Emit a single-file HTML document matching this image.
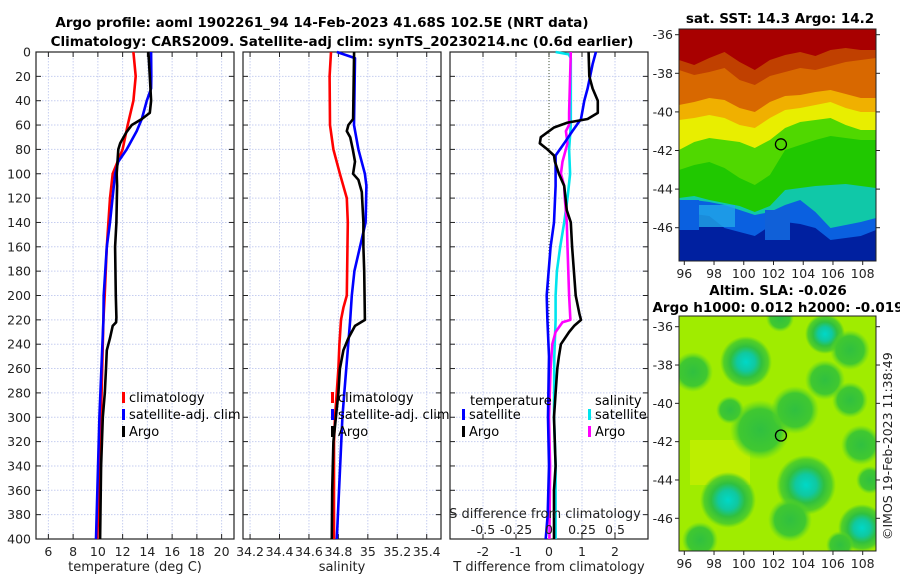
<!DOCTYPE html>
<html><head><meta charset="utf-8"><style>
html,body{margin:0;padding:0;background:#fff}
svg{display:block;font-family:"DejaVu Sans","Liberation Sans",sans-serif}
.tk{font-size:12.5px;fill:#222}
.tt{font-size:13.5px;font-weight:bold;fill:#000}
.lg{font-size:13px;fill:#000}
</style></head><body>
<svg id="fig" width="900" height="580" viewBox="0 0 900 580" xmlns="http://www.w3.org/2000/svg">
<text class="tt" x="322" y="27" text-anchor="middle">Argo profile: aoml 1902261_94 14-Feb-2023 41.68S 102.5E (NRT data)</text>
<text class="tt" x="342" y="46" text-anchor="middle">Climatology: CARS2009. Satellite-adj clim: synTS_20230214.nc (0.6d earlier)</text>
<g id="panels"></g>
<g id="maps"></g>
<text class="tt" x="780" y="23" text-anchor="middle">sat. SST: 14.3 Argo: 14.2</text>
<text class="tt" x="778" y="295" text-anchor="middle">Altim. SLA: -0.026</text>
<text class="tt" x="778" y="312" text-anchor="middle">Argo h1000: 0.012 h2000: -0.019</text>
<text class="tk" x="0" y="0" transform="translate(892,540) rotate(-90)">©IMOS 19-Feb-2023 11:38:49</text>
</svg>
<script>
const NS='http://www.w3.org/2000/svg';
// ---- data ----
const tClimDepth=[0,20,40,60,80,100,120,140,160,200,220,300,400];
const tClim=[12.87,13.06,12.87,12.41,12.0,11.2,10.98,10.85,10.72,10.55,10.45,10.25,9.95];
const tSatDepth=[0,20,30,40,55,65,80,90,100,140,160,200,220,300,400];
const tSat=[14.3,14.32,14.3,13.95,13.55,13.14,12.33,11.65,11.39,10.98,10.72,10.47,10.45,10.12,9.85];
const tArgoDepth=[0,20,40,50,55,60,66,75,80,100,110,140,160,200,218,222,225,235,245,260,280,300,340,400];
const tArgo=[14.08,14.2,14.3,14.2,13.55,12.74,12.3,11.8,11.65,11.52,11.55,11.5,11.39,11.45,11.5,11.47,11.2,10.98,10.72,10.66,10.56,10.4,10.26,10.18];
const sClimDepth=[0,20,60,80,100,120,140,200,210,220,240,260,300,320,400];
const sClim=[34.75,34.74,34.743,34.766,34.81,34.857,34.864,34.857,34.834,34.818,34.807,34.8,34.777,34.77,34.77];
const sSatDepth=[0,5,60,80,100,110,140,160,180,200,220,280,300,400];
const sSat=[34.79,34.913,34.906,34.936,34.98,34.99,34.985,34.947,34.909,34.891,34.88,34.84,34.827,34.789];
const sArgoDepth=[0,55,60,65,70,80,90,100,105,115,140,160,180,220,225,235,245,260,280,320,360,400];
const sArgo=[34.907,34.9,34.868,34.857,34.88,34.898,34.913,34.9,34.936,34.959,34.97,34.97,34.975,34.98,34.913,34.868,34.834,34.81,34.8,34.766,34.758,34.755];
const dTSatDepth=[0,10,30,40,55,65,75,85,100,110,140,160,200,220,250,300,340,380,400];
const dTSat=[1.42,1.32,1.17,1.07,0.97,0.71,0.46,0.2,0.2,0.2,0.15,0.05,-0.07,-0.05,0,-0.03,0,-0.04,-0.1];
const dTArgoDepth=[0,20,30,40,50,55,58,62,70,75,80,85,90,100,110,130,140,160,200,215,220,225,230,240,250,260,280,300,340,360,400];
const dTArgo=[1.2,1.22,1.32,1.48,1.48,1.17,0.56,0.15,-0.25,-0.28,-0.05,0.15,0.18,0.3,0.46,0.54,0.66,0.7,0.81,0.92,0.97,0.76,0.61,0.36,0.3,0.25,0.2,0.15,0.2,0.15,0.15];
const dSSatDepth=[0,2,5,60,80,100,120,140,160,180,200,220,250,300,340,400];
const dSSat=[0.05,0.15,0.165,0.165,0.152,0.16,0.14,0.115,0.085,0.06,0.05,0.05,0.04,0.038,0.05,0.05];
const dSArgoDepth=[0,50,60,65,75,90,100,110,120,140,160,200,220,222,230,240,260,300,340,400];
const dSArgo=[0.165,0.152,0.152,0.128,0.14,0.102,0.09,0.115,0.12,0.135,0.14,0.152,0.162,0.102,0.05,0.025,0.012,0,0.008,0.003];
const depthTicks=[0,20,40,60,80,100,120,140,160,180,200,220,240,260,280,300,320,340,360,380,400];
const tTicks=[6,8,10,12,14,16,18,20];
const sTicks=[34.2,34.4,34.6,34.8,35,35.2,35.4];
const sTickLabels=['34.2','34.4','34.6','34.8','35','35.2','35.4'];
const dTTicks=[-2,-1,0,1,2];
const dSTicks=[-0.5,-0.25,0,0.25,0.5];
const dSTickLabels=['-0.5','-0.25','0','0.25','0.5'];

const Y0=52,Y1=539;
const yS=d=>Y0+(d/400)*(Y1-Y0);
function lin(d0,d1,r0,r1){return v=>r0+(v-d0)/(d1-d0)*(r1-r0);}
const panels=[
 {x0:36,x1:234,sc:lin(5,21,36,234),ticks:tTicks,labels:tTicks.map(String),title:'temperature (deg C)',name:'temperature'},
 {x0:243,x1:441,sc:lin(34.152,35.497,243,441),ticks:sTicks,labels:sTickLabels,title:'salinity',name:'salinity'},
 {x0:450,x1:648,sc:lin(-3,3,450,648),ticks:dTTicks,labels:dTTicks.map(String),title:'T difference from climatology',name:'difference'}
];
const g=document.getElementById('panels');
function mk(tag,attrs,parent){const e=document.createElementNS(NS,tag);for(const k in attrs)e.setAttribute(k,attrs[k]);(parent||g).appendChild(e);return e;}
panels.forEach((p,pi)=>{
  const pg=mk('g',{});
  
  
  depthTicks.forEach(d=>{
    const l=mk('line',{x1:p.x0,x2:p.x1,y1:yS(d),y2:yS(d),stroke:'#c6cef0','stroke-dasharray':'1.5,1.5','stroke-width':1},pg);
    
    
    mk('line',{x1:p.x0,x2:p.x0+5,y1:yS(d),y2:yS(d),stroke:'#222'},pg);
    mk('line',{x1:p.x1,x2:p.x1-5,y1:yS(d),y2:yS(d),stroke:'#222'},pg);
  });
  p.ticks.forEach((t,i)=>{
    const x=p.sc(t);
    const l=mk('line',{x1:x,x2:x,y1:Y0,y2:Y1,stroke:'#c6cef0','stroke-dasharray':'1.5,1.5','stroke-width':1},pg);
    
    
    mk('line',{x1:x,x2:x,y1:Y0,y2:Y0+5,stroke:'#222'},pg);
    mk('line',{x1:x,x2:x,y1:Y1,y2:Y1-5,stroke:'#222'},pg);
    const tx=mk('text',{x:x,y:556,'text-anchor':'middle',class:'tk'},pg);
    tx.textContent=p.labels[i];
    
    
  });
  const at=mk('text',{x:(p.x0+p.x1)/2,y:571,'text-anchor':'middle',class:'tk',style:'font-size:13px'},pg);
  at.textContent=p.title;
  
  
  const fr=mk('rect',{x:p.x0,y:Y0,width:p.x1-p.x0,height:Y1-Y0,fill:'none',stroke:'#222','stroke-width':1.2},pg);
  
  
});
depthTicks.forEach(d=>{
  const t=mk('text',{x:31,y:yS(d)+4.5,'text-anchor':'end',class:'tk'});
  t.textContent=d;
  
  
});
const zx=panels[2].sc(0);
const zl=mk('line',{x1:zx,x2:zx,y1:Y0,y2:Y1,stroke:'#445533','stroke-dasharray':'1,2','stroke-width':1});


function series(depths,vals,sc,color,name){
  const pts=depths.map((d,i)=>sc(vals[i]).toFixed(1)+','+yS(d).toFixed(1)).join(' ');
  const l=mk('polyline',{points:pts,fill:'none',stroke:color,'stroke-width':2.6,'stroke-linejoin':'round'});
  
  
}
const sT=panels[0].sc,sS=panels[1].sc,sD=panels[2].sc,sDS=v=>sD(v*4);
series(tClimDepth,tClim,sT,'#ff0000','temp-climatology-line');
series(tSatDepth,tSat,sT,'#0000ff','temp-satellite-line');
series(tArgoDepth,tArgo,sT,'#000000','temp-argo-line');
series(sClimDepth,sClim,sS,'#ff0000','sal-climatology-line');
series(sSatDepth,sSat,sS,'#0000ff','sal-satellite-line');
series(sArgoDepth,sArgo,sS,'#000000','sal-argo-line');
series(dSSatDepth,dSSat,sDS,'#00e5ee','sdiff-satellite-line');
series(dSArgoDepth,dSArgo,sDS,'#ff00ff','sdiff-argo-line');
series(dTSatDepth,dTSat,sD,'#0000ff','tdiff-satellite-line');
series(dTArgoDepth,dTArgo,sD,'#000000','tdiff-argo-line');
const sat=mk('text',{x:545,y:518,'text-anchor':'middle',class:'tk',style:'font-size:13px'});
sat.textContent='S difference from climatology';


dSTicks.forEach((t,i)=>{
  const tx=mk('text',{x:sDS(t),y:534,'text-anchor':'middle',class:'tk'});
  tx.textContent=dSTickLabels[i];
  
  
});
function legend(x,y,color,label,name){
  const r=mk('rect',{x:x,y:y-9,width:3,height:11,fill:color});
  
  
  const t=mk('text',{x:x+7,y:y+1,class:'lg'});
  t.textContent=label;
  
  
}
[[122,'#ff0000','climatology'],[122,'#0000ff','satellite-adj. clim'],[122,'#000000','Argo']].forEach((e,i)=>legend(e[0],401+i*17,e[1],e[2],'temp-legend-entry'));
[[331,'#ff0000','climatology'],[331,'#0000ff','satellite-adj. clim'],[331,'#000000','Argo']].forEach((e,i)=>legend(e[0],401+i*17,e[1],e[2],'sal-legend-entry'));
const lt=mk('text',{x:470,y:405,class:'lg'});lt.textContent='temperature';


const ls=mk('text',{x:595,y:405,class:'lg'});ls.textContent='salinity';


legend(462,418,'#0000ff','satellite','diff-legend-entry');
legend(462,435,'#000000','Argo','diff-legend-entry');
legend(588,418,'#00e5ee','satellite','diff-legend-entry');
legend(588,435,'#ff00ff','Argo','diff-legend-entry');

// ---- maps ----
const mg=document.getElementById('maps');
function mm(tag,attrs,parent){const e=document.createElementNS(NS,tag);for(const k in attrs)e.setAttribute(k,attrs[k]);(parent||mg).appendChild(e);return e;}
const MX0=679,MX1=876;
const lonX=lin(96,108,684.3,862.7);
const lonTicks=[96,98,100,102,104,106,108];
const latTicks=[-36,-38,-40,-42,-44,-46];
const maps=[{y0:29,y1:261,lat:lin(-38,-46,73.3,227.7),name:'sst-map'},{y0:316,y1:551,lat:lin(-36,-46,326.7,518.3),name:'sla-map'}];
const defs=mm('defs',{});
defs.innerHTML='<clipPath id="c0"><rect x="679" y="29" width="197" height="232"/></clipPath><clipPath id="c1"><rect x="679" y="316" width="197" height="235"/></clipPath>'+
'<radialGradient id="blob"><stop offset="0" stop-color="#00d8c8"/><stop offset="0.35" stop-color="#10c8a0"/><stop offset="0.6" stop-color="#30c040"/><stop offset="0.85" stop-color="#40c830" stop-opacity="0.8"/><stop offset="1" stop-color="#50d020" stop-opacity="0"/></radialGradient>'+
'<radialGradient id="gblob"><stop offset="0" stop-color="#30c040"/><stop offset="0.7" stop-color="#40c830"/><stop offset="1" stop-color="#60d820" stop-opacity="0"/></radialGradient>';
const sg=mm('g',{'clip-path':'url(#c0)'});


mm('rect',{x:679,y:29,width:197,height:232,fill:'#0020a0'},sg);
const bands=[
 ['#0a60e0',[212,214,216,228,232,236,226,222,224,228,240,238,236,230]],
 ['#10c8a8',[200,200,202,205,210,215,212,205,200,212,228,225,222,218]],
 ['#20c800',[198,196,200,203,206,212,206,190,188,186,185,184,186,188]],
 ['#50d800',[170,165,162,168,178,185,175,150,145,140,136,138,140,140]],
 ['#e8ee00',[150,142,138,140,142,148,140,128,122,120,118,125,130,130]],
 ['#f0b000',[120,118,115,118,125,128,118,110,108,105,102,108,112,112]],
 ['#d86800',[105,102,98,100,108,112,102,96,95,92,90,94,98,98]],
 ['#c04000',[70,75,72,68,80,85,76,72,68,70,66,62,60,58]],
 ['#a80000',[60,65,58,52,62,70,60,55,52,56,50,48,50,50]]
];
bands.forEach(b=>{
  const n=b[1].length;let pts='679,29 876,29';
  for(let i=n-1;i>=0;i--)pts+=' '+(679+i*197/(n-1)).toFixed(1)+','+b[1][i];
  mm('polygon',{points:pts,fill:b[0]},sg);
});
mm('rect',{x:695,y:205,width:40,height:22,fill:'#20a8e8',opacity:0.8},sg);
mm('rect',{x:765,y:210,width:25,height:30,fill:'#1060d8'},sg);
mm('rect',{x:679,y:200,width:20,height:30,fill:'#0a60e0'},sg);
mm('circle',{cx:lonX(102.5),cy:maps[0].lat(-41.68),r:5.5,fill:'none',stroke:'#000','stroke-width':1.3});
const lg=mm('g',{'clip-path':'url(#c1)'});


mm('rect',{x:679,y:316,width:197,height:235,fill:'#a0ec00'},lg);
mm('rect',{x:690,y:440,width:60,height:45,fill:'#d0f000',opacity:0.6},lg);
[[693,372,20,'gblob'],[746,362,26,'blob'],[825,334,20,'blob'],[825,380,20,'gblob'],[760,430,30,'gblob'],[795,410,24,'gblob'],[861,445,20,'gblob'],[728,500,28,'blob'],[806,485,30,'blob'],[790,520,22,'gblob'],[862,528,24,'blob'],[780,318,14,'gblob'],[700,540,18,'gblob'],[850,350,20,'gblob'],[850,400,18,'gblob'],[730,410,14,'gblob'],[870,480,14,'gblob'],[840,545,14,'gblob']].forEach(b=>{
  mm('circle',{cx:b[0],cy:b[1],r:b[2],fill:'url(#'+b[3]+')'},lg);
});
mm('circle',{cx:lonX(102.5),cy:maps[1].lat(-41.68),r:5.5,fill:'none',stroke:'#000','stroke-width':1.3});
maps.forEach(m=>{
  const f=mm('rect',{x:MX0,y:m.y0,width:MX1-MX0,height:m.y1-m.y0,fill:'none',stroke:'#222','stroke-width':1});
  
  
  lonTicks.forEach(t=>{
    const x=lonX(t);
    mm('line',{x1:x,x2:x,y1:m.y1,y2:m.y1+4,stroke:'#222'});
    const tx=mm('text',{x:x,y:m.y1+17,'text-anchor':'middle',class:'tk'});
    tx.textContent=t;
    
    
  });
  latTicks.forEach(t=>{
    const y=m.lat(t);
    mm('line',{x1:MX0-4,x2:MX0,y1:y,y2:y,stroke:'#222'});
    mm('line',{x1:MX1,x2:MX1+4,y1:y,y2:y,stroke:'#222'});
    const tx=mm('text',{x:MX0-6,y:y+4.5,'text-anchor':'end',class:'tk'});
    tx.textContent=t;
    
    
  });
});
</script>
</body></html>
